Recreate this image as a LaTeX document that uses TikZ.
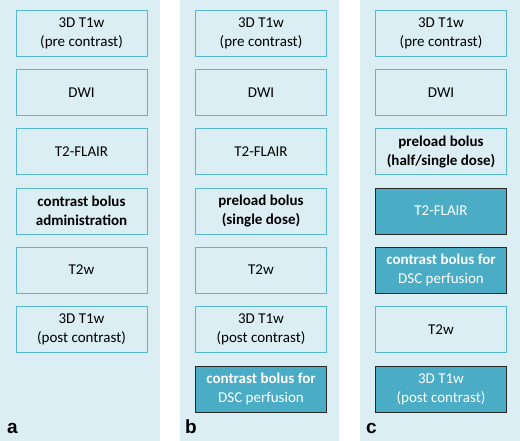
\documentclass[tikz,border=0pt]{standalone}
\usepackage{fontspec}
\setmainfont{Carlito}
\newfontfamily\labelfont{Liberation Sans}
\usetikzlibrary{positioning}
\definecolor{panelcolor}{RGB}{219, 238, 243}
\definecolor{boxedge}{RGB}{86, 183, 208}
\definecolor{boxfill}{RGB}{75, 172, 198}
\definecolor{darkedge}{RGB}{40, 40, 40}

\tikzset{
  seqbox/.style={draw=boxedge, line width=0.8pt, minimum width=131pt,
    minimum height=46pt, inner sep=0pt, align=center,
    font=\fontsize{15}{19}\selectfont},
  seqfilled/.style={seqbox, fill=boxfill, draw=darkedge, text=white},
  panellabel/.style={anchor=base west, inner sep=0pt,
    font=\labelfont\bfseries\fontsize{19}{19}\selectfont}
}

\begin{document}
\begin{tikzpicture}[x=1pt, y=-1pt]

  \useasboundingbox (0, 0) rectangle (520, 441);

  % --- Panels ---
  \fill[panelcolor] (0, 0) rectangle (160, 441);
  \fill[panelcolor] (180, 0) rectangle (339, 441);
  \fill[panelcolor] (360, 0) rectangle (520, 441);

  % --- Protocol a ---
  \node[seqbox] (a1) at (81.5, 33) {3D T1w\\(pre contrast)};
  \node[seqbox] (a2) at (81.5, 92.3) {DWI};
  \node[seqbox] (a3) at (81.5, 151.6) {T2-FLAIR};
  \node[seqbox] (a4) at (81.5, 211) {\textbf{contrast bolus}\\\textbf{administration}};
  \node[seqbox] (a5) at (81.5, 270) {T2w};
  \node[seqbox] (a6) at (81.5, 329.5) {3D T1w\\(post contrast)};
  \node[panellabel] (la) at (7, 433) {a};

  % --- Protocol b ---
  \node[seqbox] (b1) at (261, 33) {3D T1w\\(pre contrast)};
  \node[seqbox] (b2) at (261, 92.3) {DWI};
  \node[seqbox] (b3) at (261, 151.6) {T2-FLAIR};
  \node[seqbox] (b4) at (261, 211) {\textbf{preload bolus}\\\textbf{(single dose)}};
  \node[seqbox] (b5) at (261, 270) {T2w};
  \node[seqbox] (b6) at (261, 329.5) {3D T1w\\(post contrast)};
  \node[seqfilled] (b7) at (261, 389) {\textbf{contrast bolus for}\\DSC perfusion};
  \node[panellabel] (lb) at (185, 433) {b};

  % --- Protocol c ---
  \node[seqbox] (c1) at (441, 33) {3D T1w\\(pre contrast)};
  \node[seqbox] (c2) at (441, 92.3) {DWI};
  \node[seqbox] (c3) at (441, 151.6) {\textbf{preload bolus}\\\textbf{(half/single dose)}};
  \node[seqfilled] (c4) at (441, 211) {T2-FLAIR};
  \node[seqfilled] (c5) at (441, 270) {\textbf{contrast bolus for}\\DSC perfusion};
  \node[seqbox] (c6) at (441, 329.5) {T2w};
  \node[seqfilled] (c7) at (441, 389) {3D T1w\\(post contrast)};
  \node[panellabel] (lc) at (366, 433) {c};

\end{tikzpicture}
\end{document}
